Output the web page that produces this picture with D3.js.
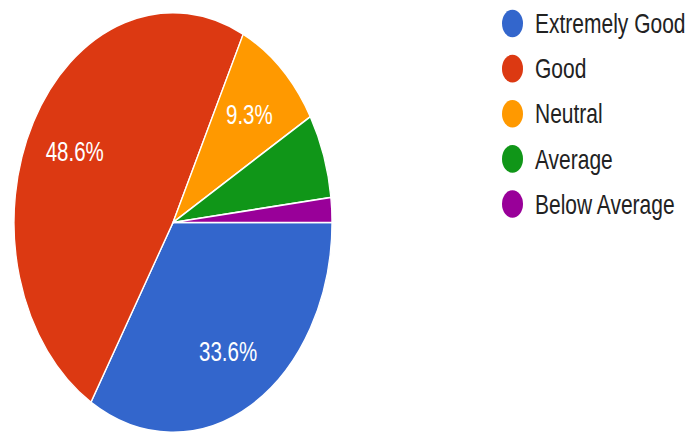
<!DOCTYPE html>
<html>
<head>
<meta charset="utf-8">
<script src="https://cdn.jsdelivr.net/npm/d3@7"></script>
<style>
  html, body { margin: 0; padding: 0; background: #fff; }
  svg { display: block; }
  text { font-family: Arial, "Liberation Sans", sans-serif; }
</style>
</head>
<body>
<svg id="chart" width="692" height="434"></svg>
<script>
const categories = ["Extremely Good", "Good", "Neutral", "Average", "Below Average"];
const values = [33.6, 48.6, 9.3, 6.5, 1.9];
const colors = ["#3366cc", "#dc3912", "#ff9900", "#109618", "#990099"];

const data = categories.map((c, i) => ({ name: c, value: values[i], color: colors[i] }));

const svg = d3.select("#chart");
const sy = 1.32;          // vertical stretch of the original picture
const R = 159;
const cx = 173, cy = 222.5;

const g = svg.append("g").attr("transform", `translate(${cx},${cy}) scale(1,${sy})`);

const pie = d3.pie().value(d => d.value).sort(null)
  .startAngle(Math.PI / 2).endAngle(Math.PI / 2 + 2 * Math.PI);
const arcs = pie(data);
const arc = d3.arc().innerRadius(0).outerRadius(R);
const labelArc = d3.arc().innerRadius(112).outerRadius(112);

g.selectAll("path.slice").data(arcs).join("path")
  .attr("class", "slice")
  .attr("d", arc)
  .attr("fill", d => d.data.color)
  .attr("stroke", "#fff")
  .attr("stroke-width", 1.3);

g.selectAll("text.lbl").data(arcs.filter(d => d.data.value >= 9)).join("text")
  .attr("class", "lbl")
  .attr("transform", d => `translate(${labelArc.centroid(d)})`)
  .attr("text-anchor", "middle")
  .attr("dy", "0.36em")
  .attr("fill", "#fff")
  .attr("font-size", 20.5)
  .text(d => d.data.value.toFixed(1) + "%");

// legend
const lg = svg.append("g").attr("transform", `scale(1,${sy})`);
const rowY = d3.scaleLinear().domain([0, categories.length - 1]).range([23.5 / sy, 204 / sy]);
const items = lg.selectAll("g.item").data(data).join("g")
  .attr("class", "item")
  .attr("transform", (d, i) => `translate(0,${rowY(i)})`);
items.append("circle")
  .attr("cx", 512.5).attr("cy", 0).attr("r", 10.5)
  .attr("fill", d => d.color);
items.append("text")
  .attr("x", 535).attr("y", 7.3)
  .attr("font-size", 21)
  .attr("fill", "#222")
  .text(d => d.name);
</script>
</body>
</html>
